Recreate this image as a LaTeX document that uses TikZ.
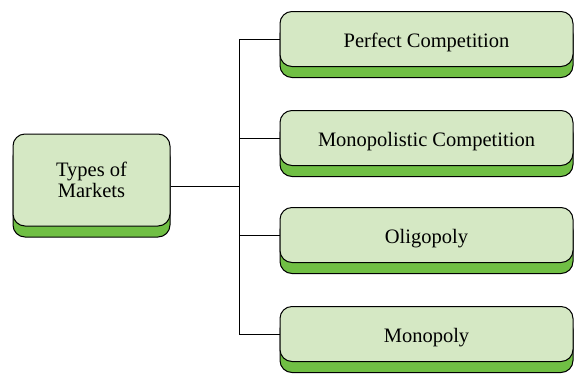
\documentclass[tikz,border=0pt]{standalone}
\usepackage{fontspec}
\setmainfont{Liberation Serif}
\usetikzlibrary{shadows}
\definecolor{facegreen}{HTML}{D5E8C4}
\definecolor{basegreen}{HTML}{70BF44}
\begin{document}
\begin{tikzpicture}[x=1pt,y=-1pt,
  box/.style={draw=black, line width=1pt, fill=facegreen, rounded corners=12pt,
    align=center, inner sep=0pt, font=\fontsize{20.5}{21}\selectfont,
    general shadow={draw=black, line width=1pt, fill=basegreen, shadow yshift=-11pt}},
  mainbox/.style={box, minimum width=157pt, minimum height=92pt},
  typebox/.style={box, minimum width=293pt, minimum height=55pt,
    text height=17pt, text depth=0pt},
  link/.style={draw=black, line width=1pt}]
\useasboundingbox (0,0) rectangle (579,373);

% root and market types
\node[mainbox] (root) at (91.5,180) {Types of\\Markets};
\node[typebox] (perfect) at (426.5,39) {Perfect Competition};
\node[typebox] (monocomp) at (426.5,138) {Monopolistic Competition};
\node[typebox] (oligo) at (426.5,235) {Oligopoly};
\node[typebox] (mono) at (426.5,334) {Monopoly};

% tree connectors
\coordinate (trunk) at (239.5,186);
\draw[link] ([yshift=-6pt]root.east) -- (trunk);
\draw[link] (perfect.west) -| (trunk) |- (mono.west);
\draw[link] (monocomp.west) -- (monocomp.west -| trunk);
\draw[link] (oligo.west) -- (oligo.west -| trunk);
\end{tikzpicture}
\end{document}
